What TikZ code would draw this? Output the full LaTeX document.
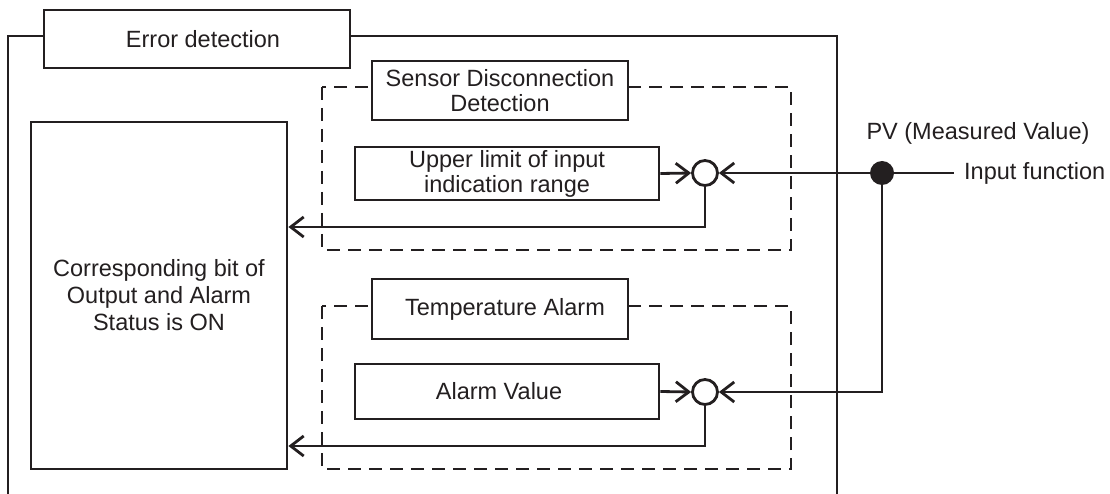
\documentclass[tikz,border=0pt]{standalone}
\usepackage{fontspec}
\setmainfont{Liberation Sans}
\usetikzlibrary{arrows.meta}
\definecolor{ink}{RGB}{35,31,32}
\begin{document}
\begin{tikzpicture}[x=1pt,y=-1pt,
  lw/.style={line width=2.8pt},
  txt/.style={font=\fontsize{23.5}{25}\selectfont, text=ink},
  blk/.style={draw=ink, lw, fill=white, inner sep=0pt, align=center, txt},
  dbox/.style={draw=ink, lw, dash pattern=on 13pt off 8pt},
  wire/.style={draw=ink, lw},
  arr/.style={wire, -{Straight Barb[length=13pt,width=20pt]}},
  junc/.style={circle, draw=ink, lw, fill=white, minimum size=25pt, inner sep=0pt},
  dot/.style={circle, fill=ink, minimum size=24pt, inner sep=0pt},
  lab/.style={inner sep=0pt, txt}]
\useasboundingbox (0,0) rectangle (1110,494);
% outer frame
\draw[wire] (8,500) -- (8,36) -- (837,36) -- (837,500);
\node[blk, minimum width=306pt, minimum height=58pt] (err) at (197,39) {\hspace{12pt}Error detection};
% output box
\node[blk, minimum width=256pt, minimum height=347pt, font=\fontsize{23.5}{27}\selectfont] (out) at (159,295.5)
  {Corresponding bit of\\Output and Alarm\\Status is ON};
% dashed groups
\draw[dbox] (322,87) rectangle (791,250);
\draw[dbox] (322,306) rectangle (791,469);
\node[blk, minimum width=256pt, minimum height=59pt] (sdd) at (500,90.5)
  {Sensor Disconnection\\Detection};
\node[blk, minimum width=256pt, minimum height=60pt] (ta) at (500,309)
  {\hspace{10pt}Temperature Alarm};
\node[blk, minimum width=304pt, minimum height=53pt] (ul) at (507,173.5)
  {Upper limit of input\\indication range};
\node[blk, minimum width=304pt, minimum height=55pt] (av) at (507,391.5)
  {Alarm Value\hspace{16pt}};
% junctions
\node[junc] (c1) at (705,173) {};
\node[junc] (c2) at (705,392) {};
\node[dot] (pv) at (882,173) {};
\coordinate (inend) at (954,173);
\coordinate (r1) at (705,227);
\coordinate (r2) at (705,446);
% labels
\node[lab] (pvl) at (978,133) {PV (Measured Value)};
\node[lab, anchor=west] (inf) at (964,173) {Input function};
% connectors
\draw[wire] (pv.east) -- (inend);
\draw[arr] (pv.west) -- (c1.east);
\draw[arr] (pv.south) |- (c2.east);
\draw[arr] (ul.east) -- (c1.west);
\draw[arr] (av.east) -- (c2.west);
\draw[arr] (c1.south) -- (r1) -- (out.east |- r1);
\draw[arr] (c2.south) -- (r2) -- (out.east |- r2);
\end{tikzpicture}
\end{document}
